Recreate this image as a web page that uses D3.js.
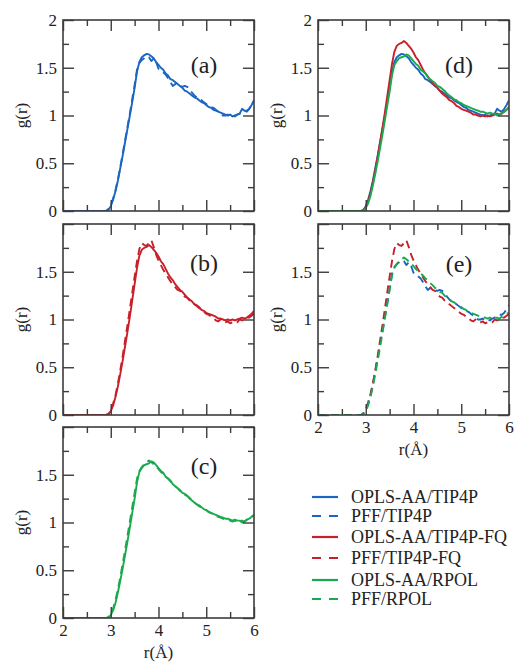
<!DOCTYPE html>
<html><head><meta charset="utf-8">
<script src="https://cdn.jsdelivr.net/npm/d3@7"></script>
<style>
html,body{margin:0;padding:0;background:#fff;}
svg{display:block;}
text{font-family:"Liberation Serif","Times New Roman",serif;fill:#222;}
</style></head>
<body>
<svg id="chart" width="525" height="669"></svg>
<script>
// ---------- data ----------
const rValues = [2.00,2.05,2.10,2.15,2.20,2.25,2.30,2.35,2.40,2.45,2.50,2.55,2.60,2.65,2.70,2.75,2.80,2.85,
  2.90,2.95,3.00,3.05,3.10,3.15,3.20,3.25,3.30,3.35,3.40,3.45,3.50,3.55,3.60,3.65,3.70,3.75,3.80,3.85,3.90,3.95,
  4.00,4.05,4.10,4.15,4.20,4.25,4.30,4.35,4.40,4.45,4.50,4.55,4.60,4.65,4.70,4.75,4.80,4.85,4.90,4.95,
  5.00,5.05,5.10,5.15,5.20,5.25,5.30,5.35,5.40,5.45,5.50,5.55,5.60,5.65,5.70,5.75,5.80,5.85,5.90,5.95,6.00];
const zeros = [0,0,0,0,0,0,0,0,0,0,0,0,0,0,0,0,0,0]; // r = 2.00 .. 2.85

const oplsTip4p = zeros.concat([0.00,0.01,0.05,0.12,0.21,0.32,0.45,0.58,0.72,0.86,1.00,1.14,
  1.29,1.46,1.56,1.61,1.63,1.645,1.64,1.62,1.60,1.56,
  1.53,1.50,1.48,1.44,1.42,1.38,1.37,1.35,1.33,1.31,
  1.29,1.26,1.25,1.23,1.21,1.19,1.18,1.16,1.14,1.13,
  1.11,1.09,1.08,1.06,1.05,1.04,1.03,1.02,1.01,1.00,
  1.01,0.99,1.00,1.01,1.02,1.07,1.05,1.04,1.07,1.11,1.16]);
const pffTip4p = zeros.concat([0.00,0.02,0.06,0.13,0.22,0.33,0.46,0.60,0.74,0.88,1.02,1.17,
  1.32,1.48,1.55,1.58,1.60,1.62,1.61,1.57,1.60,1.56,
  1.49,1.47,1.45,1.43,1.39,1.35,1.31,1.33,1.32,1.31,
  1.30,1.31,1.30,1.28,1.24,1.21,1.19,1.17,1.16,1.14,
  1.12,1.10,1.09,1.08,1.06,1.04,1.02,1.00,1.00,1.01,
  0.99,1.00,0.99,1.01,1.02,1.03,1.05,1.05,1.07,1.11,1.15]);
const oplsFq = zeros.concat([0.00,0.01,0.04,0.10,0.19,0.30,0.43,0.57,0.72,0.87,1.03,1.20,
  1.37,1.54,1.67,1.73,1.75,1.76,1.78,1.76,1.73,1.70,
  1.66,1.61,1.58,1.53,1.48,1.44,1.41,1.37,1.34,1.31,
  1.29,1.26,1.23,1.21,1.19,1.16,1.15,1.13,1.10,1.09,
  1.07,1.06,1.05,1.04,1.03,1.01,1.01,1.00,0.99,1.00,
  0.99,1.00,0.99,1.00,1.01,1.02,1.01,1.02,1.04,1.06,1.09]);
const pffFq = zeros.concat([0.00,0.01,0.05,0.12,0.21,0.33,0.47,0.62,0.78,0.94,1.11,1.28,
  1.45,1.61,1.74,1.80,1.78,1.77,1.80,1.83,1.76,1.68,
  1.62,1.57,1.52,1.48,1.44,1.40,1.37,1.34,1.31,1.30,
  1.27,1.24,1.23,1.20,1.18,1.16,1.14,1.12,1.10,1.08,
  1.06,1.05,1.03,1.02,0.99,0.98,1.00,0.98,0.97,0.98,
  0.96,0.97,0.98,0.97,1.00,0.99,1.01,1.02,1.02,1.04,1.06]);
const oplsRpol = zeros.concat([0.00,0.00,0.03,0.08,0.16,0.27,0.39,0.52,0.66,0.80,0.95,1.10,
  1.25,1.42,1.53,1.57,1.60,1.61,1.62,1.64,1.63,1.60,
  1.57,1.54,1.52,1.48,1.46,1.44,1.40,1.38,1.36,1.34,
  1.31,1.30,1.28,1.26,1.23,1.21,1.19,1.17,1.16,1.14,
  1.13,1.11,1.10,1.09,1.08,1.07,1.06,1.05,1.04,1.04,
  1.03,1.02,1.03,1.02,1.02,1.00,1.01,1.03,1.04,1.06,1.08]);
const pffRpol = zeros.concat([0.00,0.01,0.04,0.10,0.19,0.30,0.43,0.57,0.71,0.86,1.01,1.16,
  1.31,1.46,1.54,1.58,1.61,1.63,1.65,1.63,1.61,1.58,
  1.56,1.53,1.51,1.48,1.46,1.43,1.41,1.38,1.36,1.33,
  1.32,1.29,1.28,1.25,1.23,1.21,1.19,1.18,1.16,1.14,
  1.13,1.11,1.10,1.08,1.07,1.06,1.05,1.04,1.03,1.03,
  1.02,1.01,1.02,1.00,1.01,1.02,1.01,1.03,1.05,1.06,1.07]);

const seriesNames = ["OPLS-AA/TIP4P","PFF/TIP4P","OPLS-AA/TIP4P-FQ","PFF/TIP4P-FQ","OPLS-AA/RPOL","PFF/RPOL"];
const yMajorTicks = [0,0.5,1,1.5,2];
const yTickLabels = ["0","0.5","1","1.5","2"];
const yMinorTicks = [0.25,0.75,1.25,1.75];
const xMajorTicks = [2,3,4,5,6];
const xTickLabels = ["2","3","4","5","6"];
const xMinorTicks = [2.5,3.5,4.5,5.5];
const panelLabels = ["(a)","(b)","(c)","(d)","(e)"];
const xTitle = "r(Å)";
const yTitle = "g(r)";

// ---------- styles ----------
const BLUE = "#1a66c2", RED = "#c8202b", GREEN = "#1aaa4e";
const styles = {
  oplsTip4p:{color:BLUE,dash:null}, pffTip4p:{color:BLUE,dash:"8,5"},
  oplsFq:{color:RED,dash:null}, pffFq:{color:RED,dash:"8,5"},
  oplsRpol:{color:GREEN,dash:null}, pffRpol:{color:GREEN,dash:"8,5"}
};
const seriesData = {oplsTip4p,pffTip4p,oplsFq,pffFq,oplsRpol,pffRpol};
const seriesKeys = ["oplsTip4p","pffTip4p","oplsFq","pffFq","oplsRpol","pffRpol"];

const W = 191, H = 191;
const panels = [
  {x:63, y:20,  keys:["oplsTip4p","pffTip4p"], label:panelLabels[0], show2:true,  xl:false, ly:53},
  {x:63, y:224, keys:["oplsFq","pffFq"],       label:panelLabels[1], show2:false, xl:false, ly:47},
  {x:63, y:427, keys:["oplsRpol","pffRpol"],   label:panelLabels[2], show2:false, xl:true,  ly:47},
  {x:318,y:20,  keys:["oplsTip4p","oplsFq","oplsRpol"], label:panelLabels[3], show2:true, xl:false, ly:53},
  {x:318,y:224, keys:["pffTip4p","pffFq","pffRpol"],    label:panelLabels[4], show2:false, xl:true, ly:48}
];

const svg = d3.select("#chart");
const x = d3.scaleLinear().domain([2,6]).range([0,W]);
const y = d3.scaleLinear().domain([0,2]).range([H,0]);
const AX = "#3c3c3c";

panels.forEach((p,i)=>{
  const g = svg.append("g").attr("transform",`translate(${p.x},${p.y})`);
  const cid = "clip"+i;
  g.append("clipPath").attr("id",cid).append("rect").attr("width",W).attr("height",H);

  // lines
  const line = d3.line().x((d,j)=>x(rValues[j])).y(d=>y(d));
  const lg = g.append("g").attr("clip-path",`url(#${cid})`);
  p.keys.forEach(k=>{
    lg.append("path").datum(seriesData[k]).attr("d",line)
      .attr("fill","none").attr("stroke",styles[k].color).attr("stroke-width",1.9)
      .attr("stroke-linejoin","round")
      .attr("stroke-dasharray",styles[k].dash);
  });

  // axes (inward ticks)
  const styleAxis = sel => { sel.select(".domain").remove(); sel.selectAll("line").attr("stroke",AX).attr("stroke-width",1.4);
    sel.selectAll("text").style("font-family",'"Liberation Serif","Times New Roman",serif').style("font-size","17px").attr("fill","#222"); };
  g.append("g").call(d3.axisLeft(y).tickValues(yMajorTicks).tickSize(-11).tickPadding(6)
      .tickFormat((d,j)=> (d===2 && !p.show2) ? "" : yTickLabels[j])).call(styleAxis);
  g.append("g").call(d3.axisLeft(y).tickValues(yMinorTicks).tickSize(-6).tickFormat("")).call(styleAxis);
  g.append("g").attr("transform",`translate(${W},0)`).call(d3.axisRight(y).tickValues(yMajorTicks).tickSize(-11).tickFormat("")).call(styleAxis);
  g.append("g").attr("transform",`translate(${W},0)`).call(d3.axisRight(y).tickValues(yMinorTicks).tickSize(-6).tickFormat("")).call(styleAxis);
  g.append("g").attr("transform",`translate(0,${H})`).call(d3.axisBottom(x).tickValues(xMajorTicks).tickSize(-11).tickPadding(6)
      .tickFormat((d,j)=> p.xl ? xTickLabels[j] : "")).call(styleAxis);
  g.append("g").attr("transform",`translate(0,${H})`).call(d3.axisBottom(x).tickValues(xMinorTicks).tickSize(-6).tickFormat("")).call(styleAxis);
  g.append("g").call(d3.axisTop(x).tickValues(xMajorTicks).tickSize(-11).tickFormat("")).call(styleAxis);
  g.append("g").call(d3.axisTop(x).tickValues(xMinorTicks).tickSize(-6).tickFormat("")).call(styleAxis);

  g.append("rect").attr("width",W).attr("height",H).attr("fill","none").attr("stroke",AX).attr("stroke-width",1.6);

  // panel label
  g.append("text").attr("x",141).attr("y",p.ly).attr("text-anchor","middle")
    .style("font-size","24px").text(p.label);

  // y title
  const yx = (p.x < 200) ? 27 - p.x : 282 - p.x;
  g.append("text").attr("transform",`translate(${yx},${H/2}) rotate(-90)`).attr("text-anchor","middle")
    .style("font-size","17px").text(yTitle);
  if (p.xl) {
    g.append("text").attr("x",W/2).attr("y",H+40).attr("text-anchor","middle")
      .style("font-size","17px").text(xTitle);
  }
});

// legend
const legRows = [497,516,537,558,580,599];
const leg = svg.append("g");
seriesKeys.forEach((k,i)=>{
  leg.append("line").attr("x1",312).attr("x2",338).attr("y1",legRows[i]).attr("y2",legRows[i])
    .attr("stroke",styles[k].color).attr("stroke-width",2.2)
    .attr("stroke-dasharray",styles[k].dash ? "9,8" : null);
  leg.append("text").attr("x",351).attr("y",legRows[i]).attr("dy","0.35em")
    .style("font-size","18px").text(seriesNames[i]);
});
</script>
</body></html>
